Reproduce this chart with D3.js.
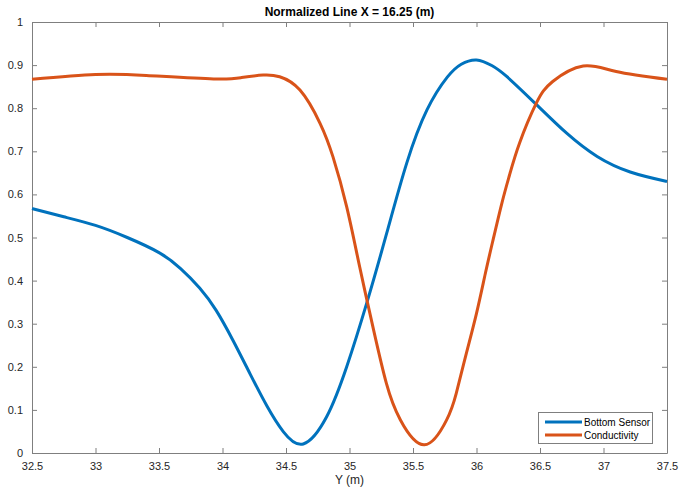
<!DOCTYPE html>
<html><head><meta charset="utf-8">
<script src="https://cdn.jsdelivr.net/npm/d3@7"></script>
<style>body{margin:0;background:#fff}svg{display:block}text{font-family:"Liberation Sans",Arial,sans-serif}</style>
</head><body><svg id="c" width="679" height="492"></svg>
<script>
const titleText = "Normalized Line X = 16.25 (m)";
const xLabel = "Y (m)";
const xTicks = [32.5,33,33.5,34,34.5,35,35.5,36,36.5,37,37.5];
const yTicks = [0,0.1,0.2,0.3,0.4,0.5,0.6,0.7,0.8,0.9,1];
const seriesNames = ["Bottom Sensor","Conductivity"];
const seriesColors = ["#0072BD","#D95319"];
const bottomX = [32.5,32.75,33.0,33.25,33.5,33.67,33.82,33.95,34.085,34.22,34.35,34.48,34.636,34.82,34.978,35.135,35.293,35.45,35.61,35.77,35.88,36.0,36.12,36.24,36.47,36.71,36.95,37.21,37.5];
const bottomY = [0.567,0.548,0.528,0.500,0.465,0.428,0.383,0.331,0.260,0.182,0.109,0.049,0.021,0.084,0.200,0.347,0.510,0.672,0.796,0.872,0.902,0.912,0.899,0.873,0.809,0.742,0.688,0.652,0.630];
const condX = [32.5,33.0,33.4,33.93,34.15,34.32,34.45,34.61,34.768,34.87,34.978,35.08,35.19,35.29,35.4,35.59,35.765,35.84,35.92,36.0,36.07,36.13,36.2,36.26,36.34,36.47,36.6,36.84,37.1,37.5];
const condY = [0.867,0.878,0.876,0.868,0.871,0.877,0.873,0.842,0.765,0.687,0.571,0.432,0.285,0.162,0.077,0.019,0.077,0.138,0.231,0.324,0.417,0.494,0.580,0.645,0.720,0.811,0.862,0.898,0.885,0.867];

const svg = d3.select("#c");
const L=32,R=667,T=22,B=453;
const x = d3.scaleLinear().domain([32.5,37.5]).range([L,R]);
const y = d3.scaleLinear().domain([0,1]).range([B,T]);
const axCol="#7f7f7f";

svg.append("rect").attr("x",L).attr("y",T).attr("width",R-L).attr("height",B-T).attr("fill","#fff");

const styleAxis = g => { g.select(".domain").attr("stroke",axCol); g.selectAll(".tick line").attr("stroke",axCol); g.selectAll("text").attr("fill","#262626").style("font-size","11px"); };
svg.append("g").attr("transform",`translate(0,${B})`).call(d3.axisBottom(x).tickValues(xTicks).tickFormat(d3.format("")).tickSizeInner(-5).tickSizeOuter(0).tickPadding(9)).call(styleAxis);
svg.append("g").attr("transform",`translate(0,${T})`).call(d3.axisTop(x).tickValues(xTicks).tickFormat("").tickSizeInner(-5).tickSizeOuter(0)).call(styleAxis);
svg.append("g").attr("transform",`translate(${L},0)`).call(d3.axisLeft(y).tickValues(yTicks).tickFormat(d3.format("")).tickSizeInner(-5).tickSizeOuter(0).tickPadding(9)).call(styleAxis);
svg.append("g").attr("transform",`translate(${R},0)`).call(d3.axisRight(y).tickValues(yTicks).tickFormat("").tickSizeInner(-5).tickSizeOuter(0)).call(styleAxis);

const line = d3.line().x(d=>x(d[0])).y(d=>y(d[1])).curve(d3.curveNatural);
const data = [d3.zip(bottomX,bottomY), d3.zip(condX,condY)];
data.forEach((d,i)=>{
  svg.append("path").datum(d).attr("d",line).attr("fill","none").attr("stroke",seriesColors[i]).attr("stroke-width",3).attr("stroke-linejoin","round");
});

svg.append("text").attr("x",(L+R)/2).attr("y",16).attr("text-anchor","middle").style("font-size","12px").style("font-weight","bold").attr("fill","#000").text(titleText);
svg.append("text").attr("x",(L+R)/2).attr("y",484).attr("text-anchor","middle").style("font-size","12px").attr("fill","#262626").text(xLabel);

const lg = svg.append("g");
lg.append("rect").attr("x",538.5).attr("y",412.5).attr("width",114).attr("height",31).attr("fill","#fff").attr("stroke","#7f7f7f");
seriesNames.forEach((n,i)=>{
  const yy = 422+i*13;
  lg.append("line").attr("x1",545).attr("x2",582).attr("y1",yy).attr("y2",yy).attr("stroke",seriesColors[i]).attr("stroke-width",3);
  lg.append("text").attr("x",584).attr("y",yy+3.5).style("font-size","10px").attr("fill","#000").text(n);
});
</script></body></html>
